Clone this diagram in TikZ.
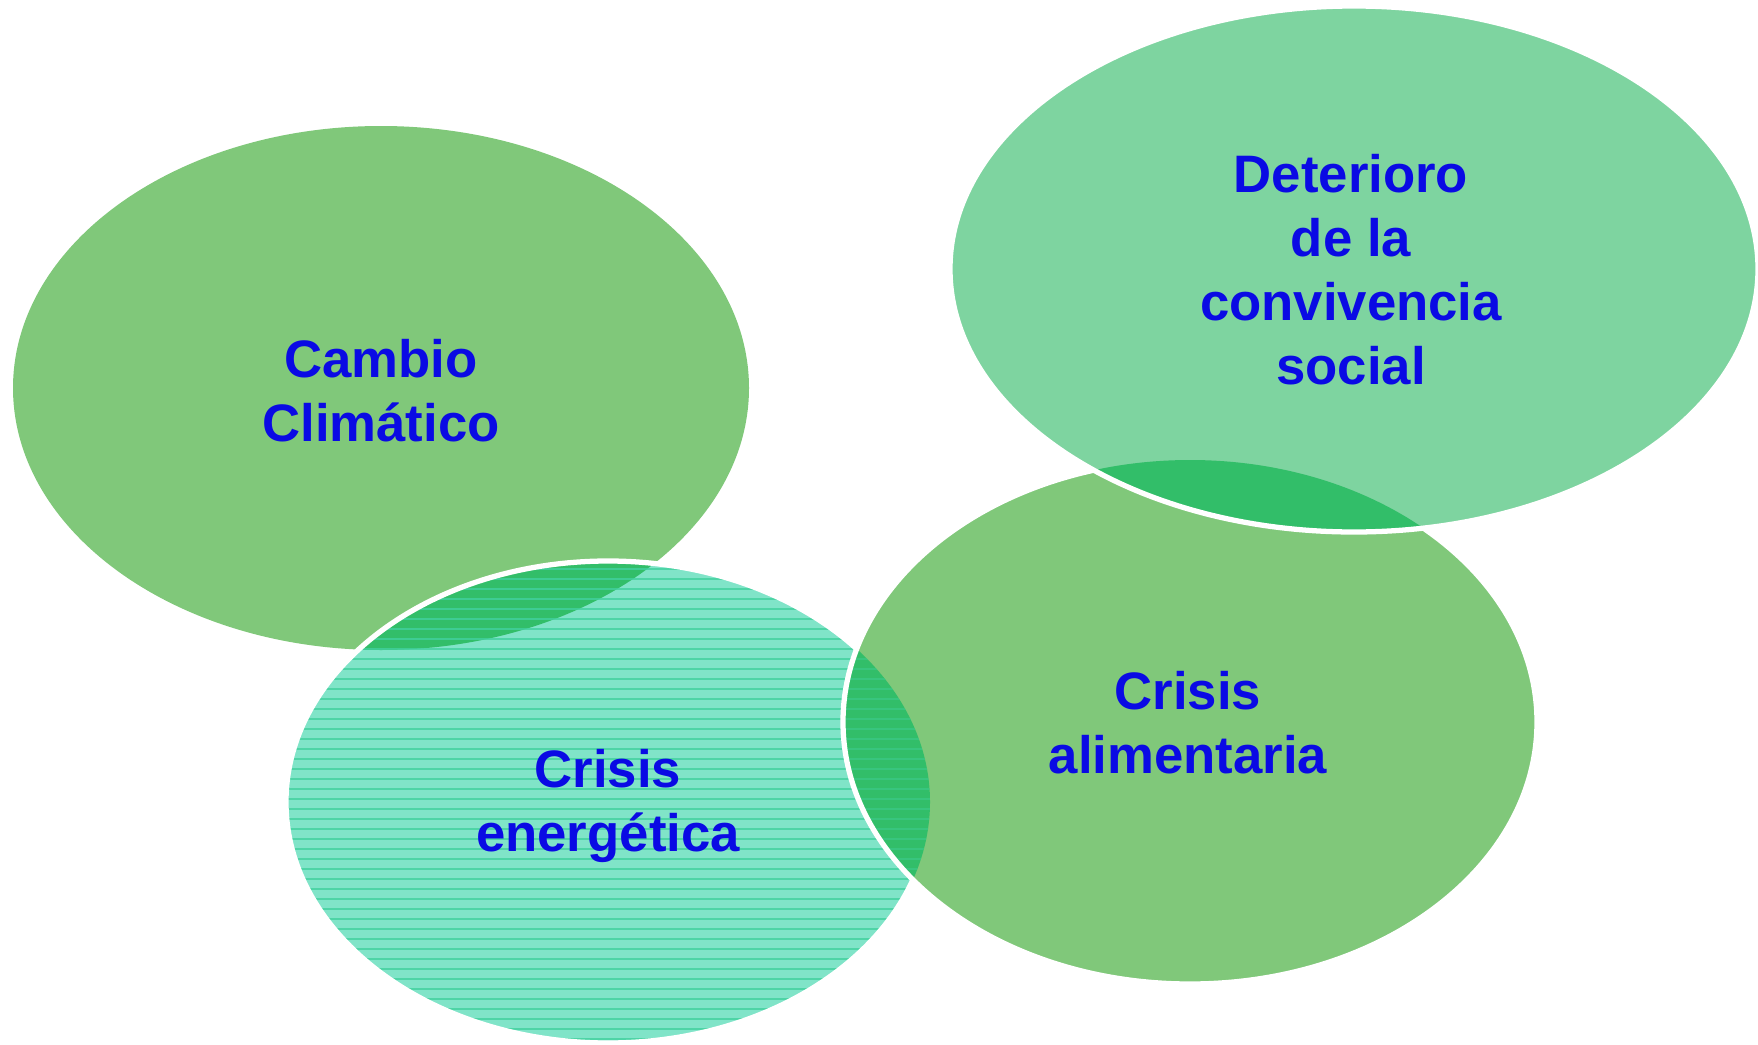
\documentclass[tikz,border=0pt]{standalone}
\usepackage{fontspec}
\setmainfont{Liberation Sans}
\definecolor{leaf}{RGB}{128,200,122}
\definecolor{mint}{RGB}{126,212,160}
\definecolor{aqua}{RGB}{128,228,200}
\definecolor{stripe}{RGB}{66,208,158}
\definecolor{deep}{RGB}{50,190,105}
\definecolor{txtblue}{RGB}{10,10,228}
\begin{document}
\begin{tikzpicture}[
  rim/.style={draw=white,line width=1.5pt},
  lbl/.style={text=txtblue,font=\bfseries\fontsize{15}{18.2}\selectfont,align=center},
  stripes/.style={stripe,line width=0.5pt},
  ecambio/.style={x radius=3.68,y radius=2.62},
  eenerg/.style={x radius=3.22,y radius=2.41},
  ealim/.style={x radius=3.47,y radius=2.62},
  edeter/.style={x radius=4.04,y radius=2.63}]
\useasboundingbox (0,0) rectangle (17.58,10.44);
\coordinate (cc) at (3.81,6.56);
\coordinate (ce) at (6.08,2.42);
\coordinate (ca) at (11.90,3.22);
\coordinate (cd) at (13.54,7.75);
% cambio climatico
\fill[leaf] (cc) ellipse [ecambio];
% crisis energetica
\fill[aqua] (ce) ellipse [eenerg];
\begin{scope}
\clip (cc) ellipse [ecambio];
\fill[deep] (ce) ellipse [eenerg];
\end{scope}
\begin{scope}
\clip (ce) ellipse [eenerg];
\foreach \y in {0.05,0.15,...,4.85} \draw[stripes,opacity=0.8] (2.8,\y) -- (9.4,\y);
\end{scope}
\draw[rim] (ce) ellipse [eenerg];
% crisis alimentaria
\fill[leaf] (ca) ellipse [ealim];
\begin{scope}
\clip (ce) ellipse [eenerg];
\fill[deep] (ca) ellipse [ealim];
\clip (ca) ellipse [ealim];
\foreach \y in {0.05,0.15,...,4.85} \draw[stripes,opacity=0.4] (2.8,\y) -- (9.4,\y);
\end{scope}
\draw[rim] (ca) ellipse [ealim];
% deterioro
\fill[mint] (cd) ellipse [edeter];
\begin{scope}
\clip (ca) ellipse [ealim];
\fill[deep] (cd) ellipse [edeter];
\end{scope}
\draw[rim] (cd) ellipse [edeter];
% textos
\node[lbl] (tcambio) at (3.81,6.53) {Cambio\\Climático};
\node[lbl] (tdeter) at (13.51,7.74) {Deterioro\\de la\\convivencia\\social};
\node[lbl] (tenerg) at (6.08,2.38) {Crisis\\energética};
\node[lbl] (talim) at (11.88,3.21) {Crisis\\alimentaria};
\end{tikzpicture}
\end{document}
